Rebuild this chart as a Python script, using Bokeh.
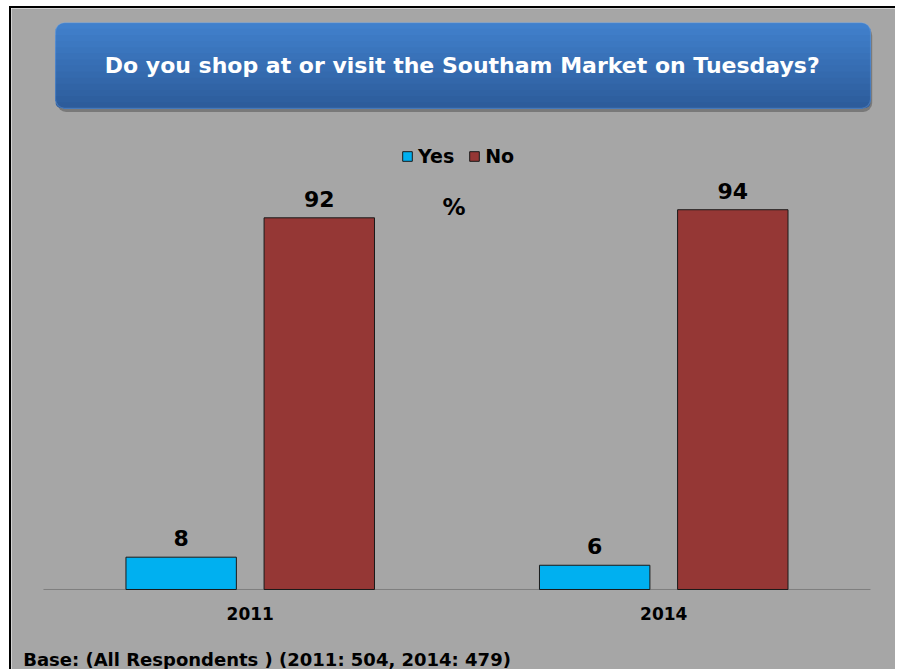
from bokeh.plotting import figure
from bokeh.models import (ColumnDataSource, FactorRange, Range1d, Label, Legend, LegendItem,
                          BoxAnnotation)
from bokeh.transform import dodge
from bokeh.core.properties import value
from bokeh.embed import file_html
from bokeh.resources import INLINE

# ---- data ----
years = ["2011", "2014"]
yes_pct = [8, 6]
no_pct = [92, 94]
series_names = ["Yes", "No"]
title_text = "Do you shop at or visit the Southam Market on Tuesdays?"
base_text = "Base: (All Respondents ) (2011: 504, 2014: 479)"
unit_text = "%"

# ---- styling ----
BG = "#A6A6A6"
YES_C = "#00B0F0"
NO_C = "#953735"
FONT = "DejaVu Sans"
SHIFT = 0.006      # small horizontal nudge of the bar groups
OFF = 0.167        # half distance between paired bars
BW = 0.267         # bar width (category units)

src = ColumnDataSource(dict(
    year=years, yes=yes_pct, no=no_pct, zero=[0] * len(years),
    yes_txt=[str(v) for v in yes_pct], no_txt=[str(v) for v in no_pct],
))
base_src = ColumnDataSource(dict(x0=[years[0]], x1=[years[-1]], y=[0]))

p = figure(width=886, height=663, output_backend="svg", toolbar_location=None,
           x_range=FactorRange(factors=years, range_padding=0.0713),
           y_range=Range1d(-20.297, 143.81), x_axis_location=None, y_axis_location=None,
           min_border=0, min_border_left=0, min_border_right=0,
           min_border_top=0, min_border_bottom=0)
p.styles = {"margin-left": "9px", "margin-top": "6px",
            "border-left": "2px solid #000000", "border-top": "2px solid #000000"}
p.background_fill_color = BG
p.border_fill_color = BG
p.outline_line_color = None
p.xgrid.grid_line_color = None
p.ygrid.grid_line_color = None

# category baseline (axis line)
p.segment(x0=dodge("x0", -0.5 + SHIFT, range=p.x_range), y0="y",
          x1=dodge("x1", 0.5 + SHIFT, range=p.x_range), y1="y",
          source=base_src, line_color="#7f7f7f", line_width=1)

r_yes = p.vbar(x=dodge("year", -OFF + SHIFT, range=p.x_range), top="yes", width=BW, source=src,
               fill_color=YES_C, line_color="#1a1a1a", line_width=1)
r_no = p.vbar(x=dodge("year", OFF + SHIFT, range=p.x_range), top="no", width=BW, source=src,
              fill_color=NO_C, line_color="#1a1a1a", line_width=1)

for col, txt, o in (("yes", "yes_txt", -OFF), ("no", "no_txt", OFF)):
    p.text(x=dodge("year", o + SHIFT, range=p.x_range), y=col, text=txt, source=src,
           text_align="center", text_baseline="alphabetic", y_offset=-19,
           text_font=value(FONT), text_font_style="bold", text_font_size="22px",
           text_color="#000000")

# category labels
p.text(x=dodge("year", SHIFT, range=p.x_range), y="zero", text="year", source=src,
       text_align="center", text_baseline="alphabetic", y_offset=24,
       text_font=value(FONT), text_font_style="bold", text_font_size="17px",
       text_color="#000000")

# ---- title box (rounded, gradient) ----
bx_l, bx_r, bx_t, bx_b = 0.0351, 2.0061, 140.3, 119.1
p.add_layout(BoxAnnotation(left=bx_l + 0.004, right=bx_r + 0.004, top=bx_t - 1.0, bottom=bx_b - 0.9,
                           fill_color="#6e6e6e", fill_alpha=0.8, line_color=None,
                           border_radius=9, level="underlay"))
top_rgb = (64, 128, 204)
bot_rgb = (45, 92, 155)
n = 14
for i in range(n):
    t = i / (n - 1)
    c = tuple(int(round(a + (b - a) * t)) for a, b in zip(top_rgb, bot_rgb))
    y_top = bx_t - (bx_t - bx_b) * i / n
    rad = 9 if i == 0 else (0, 0, 9, 9)
    p.add_layout(BoxAnnotation(left=bx_l, right=bx_r, top=y_top, bottom=bx_b,
                               fill_color="#%02x%02x%02x" % c, fill_alpha=1, line_color=None,
                               border_radius=rad, level="underlay"))
p.add_layout(BoxAnnotation(left=bx_l, right=bx_r, top=bx_t, bottom=bx_b, fill_alpha=0,
                           line_color="#7fb0ee", line_width=1.2, border_radius=9, level="underlay"))

p.add_layout(Label(x=1.0187, y=129.8, text=title_text, text_align="center",
                   text_baseline="alphabetic", text_font=FONT, text_font_style="bold",
                   text_font_size="22px", text_color="#FFFFFF"))
p.add_layout(Label(x=0.9988, y=94.7, text=unit_text, text_align="center",
                   text_baseline="alphabetic", text_font=FONT, text_font_style="bold",
                   text_font_size="23px", text_color="#000000"))
p.add_layout(Label(x=-0.043, y=-17.3, text=base_text, text_align="left",
                   text_baseline="alphabetic", text_font=FONT, text_font_style="bold",
                   text_font_size="18px", text_color="#000000"))

legend = Legend(items=[LegendItem(label=series_names[0], renderers=[r_yes]),
                       LegendItem(label=series_names[1], renderers=[r_no])],
                orientation="horizontal", location=(390, 504),
                background_fill_alpha=0, border_line_color=None,
                label_text_font=FONT, label_text_font_style="bold", label_text_font_size="19px",
                label_text_color="#000000",
                glyph_width=12, glyph_height=12, label_standoff=5, spacing=14,
                padding=0, margin=0)
p.add_layout(legend)

open("out.html", "w").write(file_html(p, INLINE))
